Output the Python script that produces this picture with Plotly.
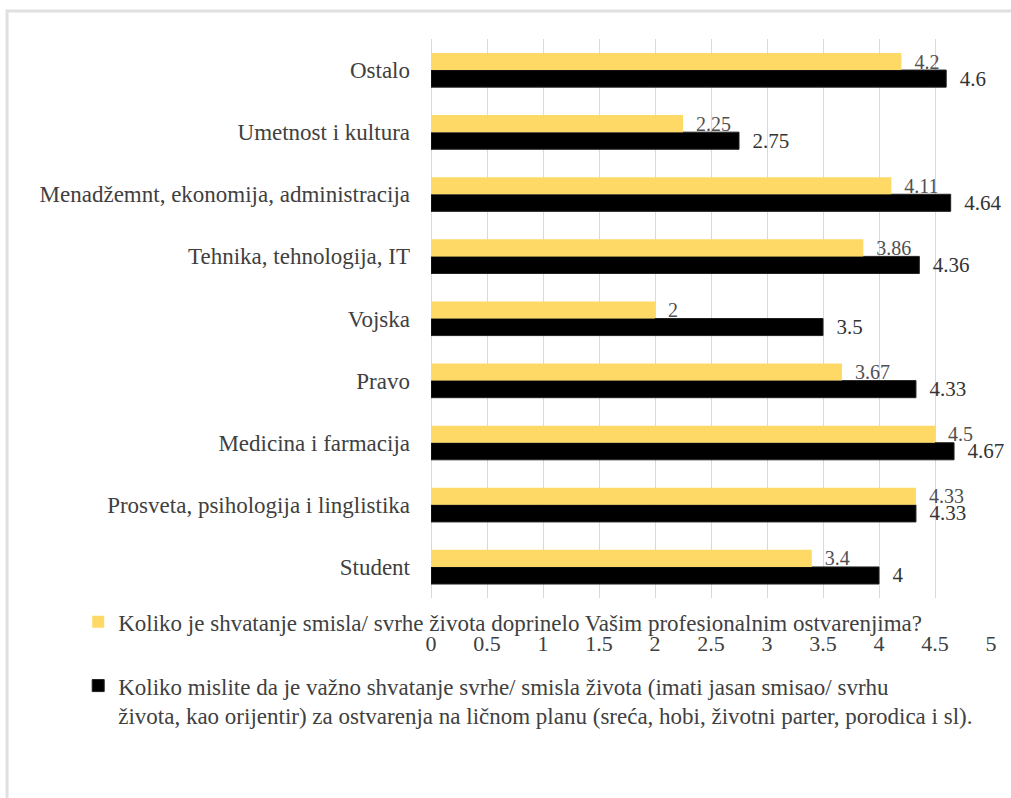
import plotly.graph_objects as go

categories = [
    "Student",
    "Prosveta, psihologija i linglistika",
    "Medicina i farmacija",
    "Pravo",
    "Vojska",
    "Tehnika, tehnologija, IT",
    "Menadžemnt, ekonomija, administracija",
    "Umetnost i kultura",
    "Ostalo",
]
professional = [3.4, 4.33, 4.5, 3.67, 2, 3.86, 4.11, 2.25, 4.2]
personal = [4, 4.33, 4.67, 4.33, 3.5, 4.36, 4.64, 2.75, 4.6]
xticks = [0, 0.5, 1, 1.5, 2, 2.5, 3, 3.5, 4, 4.5, 5]
xtick_text = ["0", "0.5", "1", "1.5", "2", "2.5", "3", "3.5", "4", "4.5", "5"]

name_prof = "Koliko je shvatanje smisla/ svrhe života doprinelo Vašim profesionalnim ostvarenjima?"
name_pers = ("Koliko mislite da je važno shvatanje svrhe/ smisla života (imati jasan smisao/ svrhu<br>"
             "života, kao orijentir) za ostvarenja na ličnom planu (sreća, hobi, životni parter, porodica i sl).")

FONT = "Liberation Serif, Times New Roman, serif"
TXT = "#404040"

fig = go.Figure()
fig.add_trace(go.Bar(
    y=categories, x=personal, orientation="h", name=name_pers,
    marker=dict(color="#000000", line=dict(color="#202020", width=1)),
    text=[f"{v:g}" for v in personal], texttemplate="  %{text}",
    textposition="outside", cliponaxis=False, constraintext="none",
    textfont=dict(family=FONT, size=21, color="#333333"),
    legendgroup="b", legendrank=2,
))
fig.add_trace(go.Bar(
    y=categories, x=professional, orientation="h", name=name_prof,
    marker=dict(color="#FFD966", line=dict(width=0)),
    text=[f"{v:g}" for v in professional], texttemplate="  %{text}",
    textposition="outside", cliponaxis=False, constraintext="none",
    textfont=dict(family=FONT, size=20, color="#505050"),
    legendgroup="a", legendrank=1,
))

fig.update_layout(
    width=1011, height=798,
    margin=dict(l=431, r=20, t=39, b=200),
    paper_bgcolor="white", plot_bgcolor="white",
    barmode="group", bargap=0.45, bargroupgap=0,
    font=dict(family=FONT, size=23, color=TXT),
    showlegend=True,
    legend=dict(
        orientation="v", x=-0.63, xanchor="left", y=-0.004, yanchor="top",
        font=dict(family=FONT, size=23, color=TXT),
        tracegroupgap=31, valign="top", itemwidth=30,
        bgcolor="rgba(0,0,0,0)",
    ),
    shapes=[dict(type="rect", xref="paper", yref="paper",
                 x0=-0.757, x1=1.2, y0=-0.5, y1=1.050,
                 line=dict(color="#e0e0e0", width=3), layer="below")],
)
fig.update_xaxes(
    range=[0, 5], tickvals=xticks, ticktext=xtick_text,
    showgrid=True, gridcolor="#d9d9d9", gridwidth=1,
    zeroline=True, zerolinecolor="#d9d9d9", zerolinewidth=1,
    showline=False, ticks="", ticklabelstandoff=30,
    tickfont=dict(family=FONT, size=22, color=TXT),
)
fig.update_yaxes(
    categoryorder="array", categoryarray=categories,
    showgrid=False, zeroline=False, showline=False, ticks="",
    ticklabelstandoff=20,
    tickfont=dict(family=FONT, size=23, color=TXT),
)

fig.write_html("out.html")
